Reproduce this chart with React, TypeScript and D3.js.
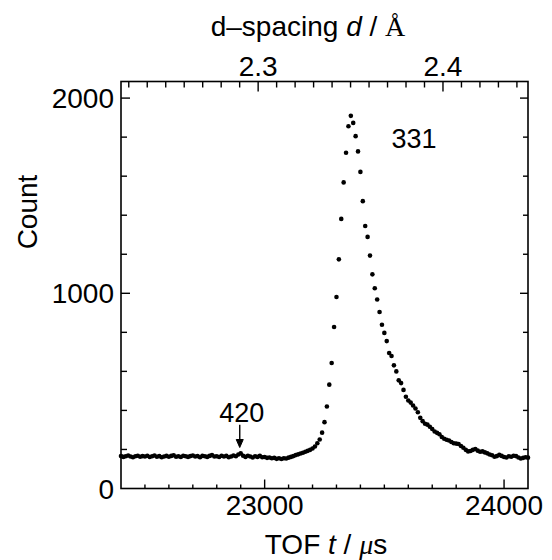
import React, { useRef, useEffect } from 'react';
import * as d3 from 'd3';

// TOF channels: first channel and width (µs)
const tofStart = 22400;
const tofStep = 10;

// counts per channel (22400 .. 24100 µs)
const counts = [
  166, 162, 165, 169, 164, 160, 165, 168, 163, 166,
  164, 168, 161, 165, 169, 163, 166, 160, 164, 167,
  163, 167, 170, 163, 165, 161, 168, 165, 162, 166,
  169, 164, 166, 160, 167, 165, 162, 167, 171, 164,
  165, 161, 168, 164, 167, 160, 164, 169, 165, 174,
  180, 168, 162, 168, 164, 159, 165, 162, 167, 160,
  161, 157, 159, 155, 157, 152, 155, 151, 155, 154,
  158, 162, 166, 171, 175, 179, 183, 188, 193, 198,
  205, 215, 232, 251, 286, 340, 420, 532, 643, 827,
  981, 1174, 1381, 1568, 1720, 1856, 1909, 1873, 1805, 1727,
  1622, 1472, 1345, 1289, 1193, 1097, 1026, 968, 904, 839,
  797, 755, 694, 679, 631, 600, 554, 540, 505, 470,
  451, 440, 425, 410, 391, 362, 345, 332, 327, 316,
  305, 292, 285, 278, 264, 255, 250, 246, 238, 232,
  230, 228, 218, 209, 198, 190, 192, 198, 202, 194,
  188, 190, 185, 180, 174, 170, 163, 166, 172, 167,
  161, 159, 165, 163, 168, 166, 159, 154, 157, 160,
  158,
];

const tofDomain = [22400, 24100];
const countDomain = [0, 2085];
const dDomain = [2.2258, 2.446];

const tofLabels = [23000, 24000];
const countLabels = [0, 1000, 2000];
const dLabels = [2.3, 2.4];

// peak labels: text at [tof, count]
const peakNotes = [
  { text: '331', t: 23530, c: 1746, anchor: 'start' },
  { text: '420', t: 22904, c: 341, anchor: 'middle' },
];
const arrowAt = { t: 22896, from: 326, to: 210 };

const FONT = '"Liberation Sans", Arial, Helvetica, sans-serif';

export default function App() {
  const ref = useRef<SVGSVGElement>(null);

  useEffect(() => {
    const width = 552;
    const height = 560;
    const svg = d3.select(ref.current);
    svg.selectAll('*').remove();
    svg.attr('width', width).attr('height', height);

    const left = 121, right = 528, top = 81.5, bottom = 488.5;
    const x = d3.scaleLinear().domain(tofDomain).range([left, right]);
    const y = d3.scaleLinear().domain(countDomain).range([bottom, top]);
    const xd = d3.scaleLinear().domain(dDomain).range([left, right]);

    const g = svg.append('g').attr('font-family', FONT).attr('fill', '#000');

    // frame
    g.append('rect')
      .attr('x', left).attr('y', top)
      .attr('width', right - left).attr('height', bottom - top)
      .attr('fill', 'none').attr('stroke', '#000').attr('stroke-width', 1.6);

    const tick = (x1, y1, x2, y2) =>
      g.append('line')
        .attr('x1', x1).attr('y1', y1).attr('x2', x2).attr('y2', y2)
        .attr('stroke', '#000').attr('stroke-width', 1.4);

    // bottom ticks (TOF)
    d3.range(22500, 24001, 100).forEach(v => {
      const major = v % 1000 === 0;
      tick(x(v), bottom, x(v), bottom - (major ? 9 : 4));
    });
    // top ticks (d-spacing)
    d3.range(223, 245).forEach(k => {
      const major = k % 10 === 0;
      tick(xd(k / 100), top, xd(k / 100), top + (major ? 10 : 6));
    });
    // left / right ticks (count)
    d3.range(200, 2001, 200).forEach(v => {
      const major = v % 1000 === 0;
      tick(left, y(v), left + (major ? 9 : 6), y(v));
      tick(right, y(v), right - (major ? 8 : 5), y(v));
    });

    // tick labels
    g.selectAll('text.xl').data(tofLabels).enter().append('text')
      .attr('x', d => x(d)).attr('y', 515)
      .attr('text-anchor', 'middle').attr('font-size', 28)
      .text(d => d);
    g.selectAll('text.yl').data(countLabels).enter().append('text')
      .attr('x', 114).attr('y', d => y(d) + 10)
      .attr('text-anchor', 'end').attr('font-size', 28)
      .text(d => d);
    g.selectAll('text.dl').data(dLabels).enter().append('text')
      .attr('x', d => xd(d)).attr('y', 76)
      .attr('text-anchor', 'middle').attr('font-size', 28)
      .text(d => d.toFixed(1));

    // axis titles
    g.append('text')
      .attr('transform', 'translate(37, 212) rotate(-90)')
      .attr('text-anchor', 'middle').attr('font-size', 28)
      .text('Count');

    const xt = g.append('text')
      .attr('x', 326).attr('y', 554)
      .attr('text-anchor', 'middle').attr('font-size', 28);
    xt.append('tspan').text('TOF ');
    xt.append('tspan').attr('font-style', 'italic').text('t');
    xt.append('tspan').text(' /  ');
    xt.append('tspan').attr('font-style', 'italic')
      .attr('font-family', '"Liberation Serif", serif').text('μ');
    xt.append('tspan').text('s');

    const dt = g.append('text')
      .attr('x', 308).attr('y', 36)
      .attr('text-anchor', 'middle').attr('font-size', 28);
    dt.append('tspan').text('d–spacing ');
    dt.append('tspan').attr('font-style', 'italic').text('d');
    dt.append('tspan').text(' /  ');
    dt.append('tspan').attr('font-family', '"Liberation Serif", serif').text('Å');

    // data points
    g.selectAll('circle').data(counts).enter().append('circle')
      .attr('cx', (d, i) => x(tofStart + i * tofStep))
      .attr('cy', d => y(d))
      .attr('r', 2.3)
      .attr('fill', '#000');

    // peak annotations
    peakNotes.forEach(n => {
      g.append('text')
        .attr('x', x(n.t)).attr('y', y(n.c))
        .attr('text-anchor', n.anchor).attr('font-size', 27)
        .text(n.text);
    });
    const ax = x(arrowAt.t);
    const y1 = y(arrowAt.from), y2 = y(arrowAt.to);
    g.append('line')
      .attr('x1', ax).attr('y1', y1).attr('x2', ax).attr('y2', y2 - 3)
      .attr('stroke', '#000').attr('stroke-width', 1.4);
    g.append('path')
      .attr('d', `M${ax - 3.5},${y2 - 8} L${ax},${y2} L${ax + 3.5},${y2 - 8} Z`)
      .attr('fill', '#000').attr('stroke', '#000').attr('stroke-width', 1);
  }, []);

  return <svg ref={ref} style={{ position: 'absolute', left: 0, top: 0 }}></svg>;
}
